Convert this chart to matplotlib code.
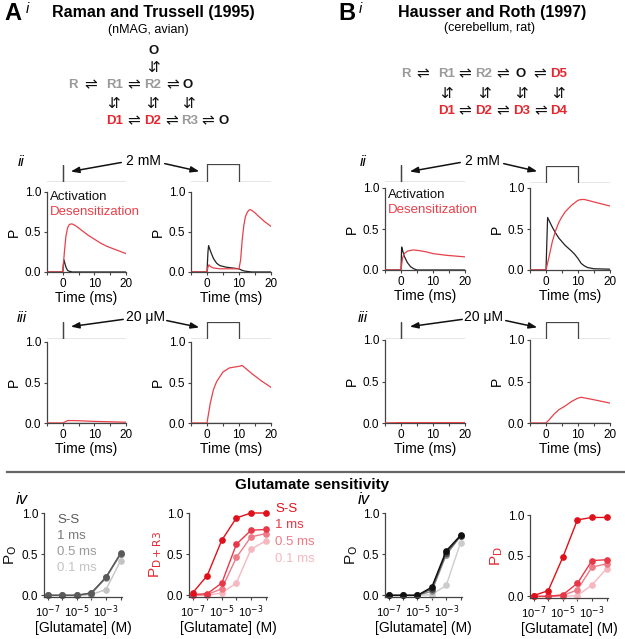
import matplotlib
matplotlib.use("Agg")
import matplotlib.pyplot as plt
from matplotlib.ticker import FixedLocator, NullFormatter

W, H = 625, 639
plt.rcParams['font.family'] = ['Liberation Sans', 'DejaVu Sans']

RED = '#e52830'
TRACE_RED = '#e8404a'
GRAY_STATE = '#9a9a9a'

# ---- time-course traces (ms, P) ----
t_aii_l_act = [-5, 0, 0.2, 0.4, 0.7, 1.0, 1.5, 2, 3, 20]
p_aii_l_act = [0, 0, 0.1, 0.15, 0.1, 0.06, 0.02, 0.01, 0, 0]
t_aii_l_des = [-5, 0, 0.5, 1, 1.5, 2, 2.5, 3, 4, 6, 8, 10, 12, 14, 16, 18, 20]
p_aii_l_des = [0, 0, 0.25, 0.45, 0.55, 0.59, 0.6, 0.6, 0.58, 0.52, 0.46, 0.41, 0.36, 0.32, 0.29, 0.26, 0.23]

t_aii_r_act = [-5, 0, 0.3, 0.5, 1, 2, 3, 4, 6, 8, 10, 11, 12, 14, 20]
p_aii_r_act = [0, 0, 0.25, 0.33, 0.27, 0.17, 0.11, 0.08, 0.06, 0.05, 0.04, 0.02, 0.01, 0, 0]
t_aii_r_des = [-5, 0, 0.3, 0.6, 1, 2, 4, 6, 8, 10, 10.5, 11, 11.5, 12, 12.5, 13, 13.5, 14, 15, 16, 18, 20]
p_aii_r_des = [0, 0, 0.06, 0.09, 0.07, 0.05, 0.04, 0.04, 0.04, 0.04, 0.15, 0.4, 0.58, 0.69, 0.74, 0.77, 0.78, 0.77, 0.74, 0.70, 0.63, 0.57]

t_aiii_l_act = [-5, 20]
p_aiii_l_act = [0, 0]
t_aiii_l_des = [-5, 0, 1, 1.5, 3, 5, 10, 15, 20]
p_aiii_l_des = [0, 0, 0.02, 0.03, 0.03, 0.028, 0.02, 0.015, 0.01]

t_aiii_r_act = [-5, 20]
p_aiii_r_act = [0, 0]
t_aiii_r_des = [-5, 0, 1, 2, 3, 5, 7, 10, 11, 14, 17, 20]
p_aiii_r_des = [0, 0, 0.24, 0.41, 0.51, 0.63, 0.68, 0.7, 0.71, 0.61, 0.52, 0.44]

t_bii_l_act = [-5, 0, 0.2, 0.5, 1, 2, 3, 4, 5, 20]
p_bii_l_act = [0, 0, 0.28, 0.24, 0.17, 0.09, 0.04, 0.015, 0, 0]
t_bii_l_des = [-5, 0, 0.5, 1, 2, 3, 4, 6, 8, 10, 14, 20]
p_bii_l_des = [0, 0, 0.15, 0.2, 0.23, 0.24, 0.245, 0.235, 0.22, 0.2, 0.18, 0.16]

t_bii_r_act = [-5, 0, 0.5, 1, 2, 3, 4, 6, 8, 9, 10, 11, 12, 13, 15, 20]
p_bii_r_act = [0, 0, 0.64, 0.6, 0.52, 0.45, 0.39, 0.3, 0.23, 0.19, 0.14, 0.08, 0.05, 0.03, 0.015, 0.01]
t_bii_r_des = [-5, 0, 1, 2, 3, 4, 5, 6, 8, 10, 11, 12, 14, 16, 18, 20]
p_bii_r_des = [0, 0, 0.17, 0.35, 0.48, 0.58, 0.65, 0.71, 0.79, 0.85, 0.86, 0.86, 0.84, 0.82, 0.8, 0.78]

t_biii_l_act = [-5, 20]
p_biii_l_act = [0, 0]
t_biii_l_des = [-5, 0, 20]
p_biii_l_des = [0, 0.005, 0.005]

t_biii_r_act = [-5, 20]
p_biii_r_act = [0.003, 0.003]
t_biii_r_des = [-5, 0, 1, 2.6, 4, 5.8, 8, 10, 11, 15, 20]
p_biii_r_des = [0, 0, 0.04, 0.11, 0.16, 0.2, 0.26, 0.3, 0.31, 0.28, 0.24]

# ---- concentration-response ----
glu = [1e-7, 1e-6, 1e-5, 1e-4, 1e-3, 1e-2]
cond_labels = ['S-S', '1 ms', '0.5 ms', '0.1 ms']

a_po = [[0, 0, 0, 0.03, 0.22, 0.51],
        [0, 0, 0, 0.03, 0.22, 0.50],
        [0, 0, 0, 0.02, 0.21, 0.50],
        [0, 0, 0, 0.01, 0.07, 0.42]]
a_pd = [[0.03, 0.24, 0.67, 0.94, 1.0, 1.0],
        [0.01, 0.02, 0.15, 0.62, 0.79, 0.80],
        [0.0, 0.01, 0.08, 0.46, 0.71, 0.75],
        [0.0, 0.0, 0.03, 0.15, 0.56, 0.66]]
b_po = [[0, 0, 0, 0.10, 0.54, 0.73],
        [0, 0, 0, 0.08, 0.52, 0.72],
        [0, 0, 0, 0.05, 0.49, 0.72],
        [0, 0, 0, 0.01, 0.12, 0.64]]
b_pd = [[0.01, 0.07, 0.48, 0.94, 0.97, 0.97],
        [0.0, 0.0, 0.02, 0.16, 0.44, 0.45],
        [0.0, 0.0, 0.01, 0.08, 0.36, 0.40],
        [0.0, 0.0, 0.0, 0.01, 0.14, 0.34]]

a_gray = ['#5a5a5a', '#7a7a7a', '#9a9a9a', '#c4c4c4']
b_gray = ['#111111', '#444444', '#888888', '#cccccc']
reds = ['#e0101a', '#e83848', '#ef7a88', '#f6b8c0']

fig = plt.figure(figsize=(W / 100, H / 100), dpi=100)


def px_axes(x0, x1, ytop, ybot):
    return fig.add_axes([x0 / W, 1 - ybot / H, (x1 - x0) / W, (ybot - ytop) / H])


def ftext(x, y, s, **kw):
    fig.text(x / W, 1 - y / H, s, **kw)


def farrow(x0, y0, x1, y1):
    fig.add_artist(matplotlib.patches.FancyArrowPatch(
        (x0 / W, 1 - y0 / H), (x1 / W, 1 - y1 / H), transform=fig.transFigure,
        arrowstyle='-|>,head_length=5,head_width=1.8', color='#111111', lw=1.1))


def style(ax):
    for s in ['top', 'right']:
        ax.spines[s].set_visible(False)
    for s in ['left', 'bottom']:
        ax.spines[s].set_color('#444444')
        ax.spines[s].set_linewidth(0.9)
    ax.tick_params(labelsize=8.5, length=2.5, width=0.8, color='#444444', pad=1.5)


def trace_panel(x0, x1, ytop, ybot, ta, pa, td, pd):
    ax = px_axes(x0, x1, ytop, ybot)
    ax.plot(ta, pa, color='#222222', lw=0.9, zorder=3)
    ax.plot(td, pd, color=TRACE_RED, lw=0.9, zorder=4)
    ax.set_xlim(-5, 20)
    ax.set_ylim(0, 1)
    ax.set_xticks([0, 10, 20])
    ax.xaxis.set_minor_locator(FixedLocator([-5, 5, 15]))
    ax.tick_params(which='minor', length=1.8, width=0.8, color='#444444')
    ax.set_yticks([0, 0.5, 1.0])
    ax.set_yticklabels(['0.0', '0.5', '1.0'])
    style(ax)
    ax.set_xlabel('Time (ms)', fontsize=10, labelpad=1)
    ax.set_ylabel('P', fontsize=10, labelpad=3)
    return ax


def stim_panel(x0, x1, ytop, ybot, pulse):
    ax = px_axes(x0, x1, ytop, ybot)
    if pulse:
        ax.plot([-5, 0, 0, 10, 10, 20], [0, 0, 1, 1, 0, 0], color='#444444', lw=0.9)
    else:
        ax.plot([-5, 0, 0, 0, 20], [0, 0, 1, 0, 0], color='#444444', lw=0.9)
    ax.set_xlim(-5, 20)
    ax.set_ylim(0, 1)
    ax.axis('off')


def conc_panel(x0, x1, ytop, ybot, data, colors, ylabel, ycolor):
    ax = px_axes(x0, x1, ytop, ybot)
    for vals, c in reversed(list(zip(data, colors))):
        ax.plot(glu, vals, '-o', color=c, lw=1.0, ms=3.8, mec=c, clip_on=False)
    ax.set_xscale('log')
    ax.set_xlim(10 ** -7.25, 10 ** -1.9)
    ax.set_ylim(-0.02, 1.0)
    ax.set_xticks([1e-7, 1e-5, 1e-3])
    ax.set_xticklabels([r'10$^{-7}$', r'10$^{-5}$', r'10$^{-3}$'])
    ax.xaxis.set_minor_locator(FixedLocator([1e-6, 1e-4, 1e-2]))
    ax.xaxis.set_minor_formatter(NullFormatter())
    ax.tick_params(which='minor', length=2.5, width=0.8, color='#444444')
    ax.set_yticks([0, 0.5, 1.0])
    ax.set_yticklabels(['0.0', '0.5', '1.0'])
    style(ax)
    ax.tick_params(axis='x', labelsize=8, pad=2)
    ax.set_xlabel('[Glutamate] (M)', fontsize=10, labelpad=1)
    ax.set_ylabel(ylabel, fontsize=11, color=ycolor, labelpad=2)
    return ax


# ---- headers ----
ftext(4, 13, 'A', fontsize=17, fontweight='bold', va='center')
ftext(26, 9, 'i', fontsize=10.5, style='italic', va='center')
ftext(153, 12, 'Raman and Trussell (1995)', fontsize=11.5, fontweight='bold', ha='center', va='center')
ftext(148, 30, '(nMAG, avian)', fontsize=9, ha='center', va='center')

ftext(338, 13, 'B', fontsize=17, fontweight='bold', va='center')
ftext(359, 9, 'i', fontsize=10.5, style='italic', va='center')
ftext(492, 12, 'Hausser and Roth (1997)', fontsize=11.5, fontweight='bold', ha='center', va='center')
ftext(489, 28, '(cerebellum, rat)', fontsize=9, ha='center', va='center')

# ---- kinetic schemes ----
st = dict(fontsize=9.5, fontweight='bold', ha='center', va='center')
ar = dict(fontsize=11, ha='center', va='center', family='DejaVu Sans', color='#111111')
ftext(154, 51, 'O', color='#111111', **st)
ftext(154, 68, '\u21f5', **ar)
for x, s, c in [(73, 'R', GRAY_STATE), (115, 'R1', GRAY_STATE), (153, 'R2', GRAY_STATE), (188, 'O', '#111111')]:
    ftext(x, 85, s, color=c, **st)
for x in [91, 134, 173]:
    ftext(x, 85, '\u21cc', **ar)
for x in [114, 153, 189]:
    ftext(x, 104, '\u21f5', **ar)
for x, s, c in [(115, 'D1', RED), (153, 'D2', RED), (190, 'R3', GRAY_STATE), (224, 'O', '#111111')]:
    ftext(x, 121, s, color=c, **st)
for x in [134, 172, 208]:
    ftext(x, 121, '\u21cc', **ar)

for x, s, c in [(406, 'R', GRAY_STATE), (447, 'R1', GRAY_STATE), (484, 'R2', GRAY_STATE),
                (521, 'O', '#111111'), (559, 'D5', RED)]:
    ftext(x, 74, s, color=c, **st)
for x in [423, 465, 503, 540]:
    ftext(x, 74, '\u21cc', **ar)
for x in [447, 485, 522, 559]:
    ftext(x, 94, '\u21f5', **ar)
for x, s in [(447, 'D1'), (484, 'D2'), (522, 'D3'), (559, 'D4')]:
    ftext(x, 111, s, color=RED, **st)
for x in [465, 503, 541]:
    ftext(x, 111, '\u21cc', **ar)

# ---- ii / iii traces ----
trace_panel(47, 126, 192, 272, t_aii_l_act, p_aii_l_act, t_aii_l_des, p_aii_l_des)
trace_panel(191, 271, 192, 272, t_aii_r_act, p_aii_r_act, t_aii_r_des, p_aii_r_des)
trace_panel(47, 126, 342, 423, t_aiii_l_act, p_aiii_l_act, t_aiii_l_des, p_aiii_l_des)
trace_panel(191, 271, 342, 423, t_aiii_r_act, p_aiii_r_act, t_aiii_r_des, p_aiii_r_des)
trace_panel(385, 465, 188, 270, t_bii_l_act, p_bii_l_act, t_bii_l_des, p_bii_l_des)
trace_panel(530, 610, 188, 270, t_bii_r_act, p_bii_r_act, t_bii_r_des, p_bii_r_des)
trace_panel(385, 465, 340, 423, t_biii_l_act, p_biii_l_act, t_biii_l_des, p_biii_l_des)
trace_panel(530, 610, 340, 423, t_biii_r_act, p_biii_r_act, t_biii_r_des, p_biii_r_des)

stim_panel(47, 126, 165, 182, False)
stim_panel(191, 271, 164, 182, True)
stim_panel(47, 126, 322, 339, False)
stim_panel(191, 271, 322, 339, True)
stim_panel(385, 465, 165, 182, False)
stim_panel(530, 610, 166, 183, True)
stim_panel(385, 465, 322, 339, False)
stim_panel(530, 610, 322, 339, True)

ftext(18, 162, 'ii', fontsize=11, style='italic', va='center')
ftext(360, 162, 'ii', fontsize=11, style='italic', va='center')
ftext(17, 318, 'iii', fontsize=11, style='italic', va='center')
ftext(358, 318, 'iii', fontsize=11, style='italic', va='center')

ftext(143, 161, '2 mM', fontsize=10, ha='center', va='center')
ftext(482, 161, '2 mM', fontsize=10, ha='center', va='center')
ftext(145, 317, '20 \u03bcM', fontsize=10, ha='center', va='center')
ftext(484, 317, '20 \u03bcM', fontsize=10, ha='center', va='center')
farrow(124, 162, 68, 172)
farrow(162, 163, 202, 172)
farrow(463, 162, 407, 172)
farrow(501, 163, 540, 172)
farrow(126, 319, 68, 327)
farrow(164, 320, 202, 328)
farrow(465, 319, 407, 327)
farrow(503, 320, 540, 328)

ftext(50, 197, 'Activation', fontsize=9.5, color='#111111', va='center')
ftext(50, 212, 'Desensitization', fontsize=9.5, color=TRACE_RED, va='center')
ftext(388, 195, 'Activation', fontsize=9.5, color='#111111', va='center')
ftext(388, 210, 'Desensitization', fontsize=9.5, color=TRACE_RED, va='center')

# ---- separator + glutamate sensitivity ----
fig.add_artist(matplotlib.lines.Line2D([7 / W, 1.0], [1 - 472 / H, 1 - 472 / H],
                                       transform=fig.transFigure, color='#666666', lw=1.6))
ftext(312, 485, 'Glutamate sensitivity', fontsize=11, fontweight='bold', ha='center', va='center')

conc_panel(44, 122, 513, 597, a_po, a_gray, r'P$_\mathrm{O}$', '#111111')
conc_panel(189, 267, 513, 597, a_pd, reds, r'P$_\mathrm{D+R3}$', RED)
conc_panel(385, 462, 513, 597, b_po, b_gray, r'P$_\mathrm{O}$', '#111111')
conc_panel(530, 608, 515, 598, b_pd, reds, r'P$_\mathrm{D}$', RED)

ftext(16, 499, 'iv', fontsize=12, style='italic', va='center')
ftext(358, 499, 'iv', fontsize=12, style='italic', va='center')

for i, (lab, c) in enumerate(zip(cond_labels, a_gray)):
    ftext(57, 520 + i * 16, lab, fontsize=9.5, color=c, va='center')
for i, (lab, c) in enumerate(zip(cond_labels, reds)):
    ftext(275, 509 + i * 16.5, lab, fontsize=9.5, color=c, va='center')

fig.savefig('out.png', dpi=100)
